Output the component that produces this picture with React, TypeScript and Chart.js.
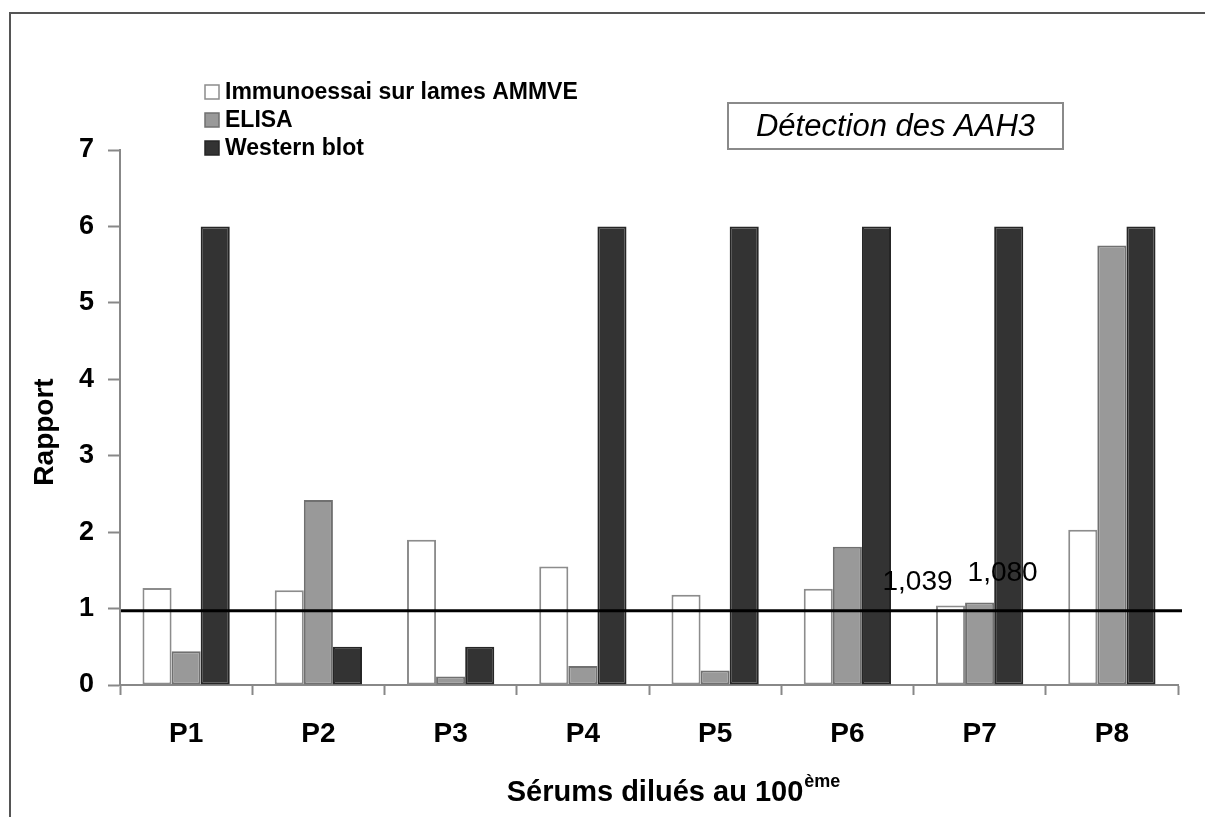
import React, { useEffect, useRef } from "react";
import { Chart, registerables } from "chart.js";

Chart.register(...registerables);

// Serum samples on the x axis
const categories = ["P1", "P2", "P3", "P4", "P5", "P6", "P7", "P8"];

// Ratio values per method
const immunoessai = [1.27, 1.24, 1.9, 1.55, 1.18, 1.26, 1.039, 2.03];
const elisa = [0.44, 2.42, 0.11, 0.25, 0.19, 1.81, 1.08, 5.75];
const westernBlot = [6, 0.5, 0.5, 6, 6, 6, 6, 6];

const seriesNames = ["Immunoessai sur lames AMMVE", "ELISA", "Western blot"];
const yTicks = [0, 1, 2, 3, 4, 5, 6, 7];

// Positivity threshold drawn across the plot
const thresholdValue = 0.97;

// Bars whose value is written next to them: [dataset index, category index]
const labelledBars: [number, number][] = [
  [0, 6],
  [1, 6],
];

const FONT = "'Liberation Sans', Arial, Helvetica, sans-serif";

const fmt = (v: number) => v.toFixed(3).replace(".", ",");

const decorPlugin = {
  id: "decor",
  beforeDraw(chart: any) {
    const ctx = chart.ctx;
    ctx.save();
    ctx.fillStyle = "#ffffff";
    ctx.fillRect(0, 0, chart.width, chart.height);
    // outer frame (top and left edges)
    ctx.strokeStyle = "#555555";
    ctx.lineWidth = 2;
    ctx.beginPath();
    ctx.moveTo(chart.width, 13);
    ctx.lineTo(10, 13);
    ctx.lineTo(10, chart.height);
    ctx.stroke();
    ctx.restore();
  },
  afterDatasetsDraw(chart: any) {
    const ctx = chart.ctx;
    const { chartArea, scales } = chart;
    ctx.save();

    // threshold line
    const ty = scales.y.getPixelForValue(thresholdValue);
    ctx.strokeStyle = "#000000";
    ctx.lineWidth = 3;
    ctx.beginPath();
    ctx.moveTo(chartArea.left + 1, ty);
    ctx.lineTo(chartArea.right + 4, ty);
    ctx.stroke();

    // value labels
    const offsets: Record<number, [number, number]> = { 0: [-33, -23], 1: [23, -29] };
    ctx.fillStyle = "#000000";
    ctx.font = `28px ${FONT}`;
    ctx.textAlign = "center";
    ctx.textBaseline = "middle";
    labelledBars.forEach(([d, i]) => {
      const el = chart.getDatasetMeta(d).data[i];
      const v = chart.data.datasets[d].data[i] as number;
      const [dx, dy] = offsets[d] || [0, -20];
      ctx.fillText(fmt(v), el.x + dx, el.y + dy);
    });

    // legend
    ctx.font = `bold 23px ${FONT}`;
    ctx.textAlign = "left";
    ctx.textBaseline = "middle";
    chart.data.datasets.forEach((ds: any, k: number) => {
      const cy = 92 + k * 28;
      ctx.fillStyle = ds.backgroundColor;
      ctx.fillRect(205, cy - 7, 14, 14);
      ctx.strokeStyle = ds.borderColor;
      ctx.lineWidth = 1.5;
      ctx.strokeRect(205, cy - 7, 14, 14);
      ctx.fillStyle = "#000000";
      ctx.fillText(ds.label, 225, cy + 1);
    });

    // boxed caption
    const bx = 728, by = 103, bw = 335, bh = 46;
    ctx.fillStyle = "#ffffff";
    ctx.fillRect(bx, by, bw, bh);
    ctx.strokeStyle = "#8a8a8a";
    ctx.lineWidth = 2;
    ctx.strokeRect(bx, by, bw, bh);
    ctx.fillStyle = "#000000";
    ctx.font = `italic 31px ${FONT}`;
    ctx.textAlign = "center";
    ctx.fillText("Détection des AAH3", bx + bw / 2, by + bh / 2 + 1);

    // y axis title
    ctx.save();
    ctx.translate(45, 432);
    ctx.rotate(-Math.PI / 2);
    ctx.font = `bold 28px ${FONT}`;
    ctx.textAlign = "center";
    ctx.textBaseline = "middle";
    ctx.fillText("Rapport", 0, 0);
    ctx.restore();

    // x axis title with superscript
    const main = "Sérums dilués au 100";
    const sup = "ème";
    ctx.font = `bold 29px ${FONT}`;
    const mw = ctx.measureText(main).width;
    const cx = (chartArea.left + chartArea.right) / 2 + 6;
    ctx.textAlign = "left";
    ctx.textBaseline = "alphabetic";
    ctx.fillText(main, cx - mw / 2, 801);
    ctx.font = `bold 18px ${FONT}`;
    ctx.fillText(sup, cx + mw / 2 + 1, 787);

    ctx.restore();
  },
};

export default function App() {
  const canvasRef = useRef<HTMLCanvasElement | null>(null);

  useEffect(() => {
    if (!canvasRef.current) return;
    const chart = new Chart(canvasRef.current, {
      type: "bar",
      data: {
        labels: categories,
        datasets: [
          {
            label: seriesNames[0],
            data: immunoessai,
            backgroundColor: "#ffffff",
            borderColor: "#8c8c8c",
            borderWidth: 2,
            borderSkipped: false,
          },
          {
            label: seriesNames[1],
            data: elisa,
            backgroundColor: "#999999",
            borderColor: "#707070",
            borderWidth: 2,
            borderSkipped: false,
          },
          {
            label: seriesNames[2],
            data: westernBlot,
            backgroundColor: "#333333",
            borderColor: "#262626",
            borderWidth: 2,
            borderSkipped: false,
          },
        ],
      },
      options: {
        responsive: false,
        animation: false,
        devicePixelRatio: 1,
        datasets: { bar: { barPercentage: 1, categoryPercentage: 0.66 } },
        layout: { padding: { top: 150, right: 27, left: 0, bottom: 0 } },
        plugins: {
          legend: { display: false },
          tooltip: { enabled: false },
          title: { display: false },
        },
        scales: {
          x: {
            afterFit: (s: any) => {
              s.height = 132;
            },
            grid: {
              display: true,
              drawOnChartArea: false,
              drawTicks: true,
              tickLength: 10,
              tickColor: "#888888",
              tickWidth: 2,
              offset: true,
            },
            border: { display: true, color: "#888888", width: 2 },
            ticks: {
              color: "#000000",
              font: { family: FONT, size: 28, weight: "bold" },
              padding: 22,
              maxRotation: 0,
              autoSkip: false,
            },
          },
          y: {
            min: 0,
            max: 7,
            afterFit: (s: any) => {
              s.width = 120;
            },
            afterBuildTicks: (s: any) => {
              s.ticks = yTicks.map((v) => ({ value: v }));
            },
            grid: {
              drawOnChartArea: false,
              drawTicks: true,
              tickLength: 12,
              tickColor: "#888888",
              tickWidth: 2,
            },
            border: { display: true, color: "#888888", width: 2 },
            ticks: {
              color: "#000000",
              font: { family: FONT, size: 27, weight: "bold" },
              padding: 14,
            },
          },
        },
      },
      plugins: [decorPlugin],
    } as any);
    return () => chart.destroy();
  }, []);

  return (
    <div style={{ position: "absolute", left: 0, top: 0, width: 1205, height: 817, background: "#fff" }}>
      <canvas ref={canvasRef} width={1205} height={817} style={{ display: "block" }} />
    </div>
  );
}
